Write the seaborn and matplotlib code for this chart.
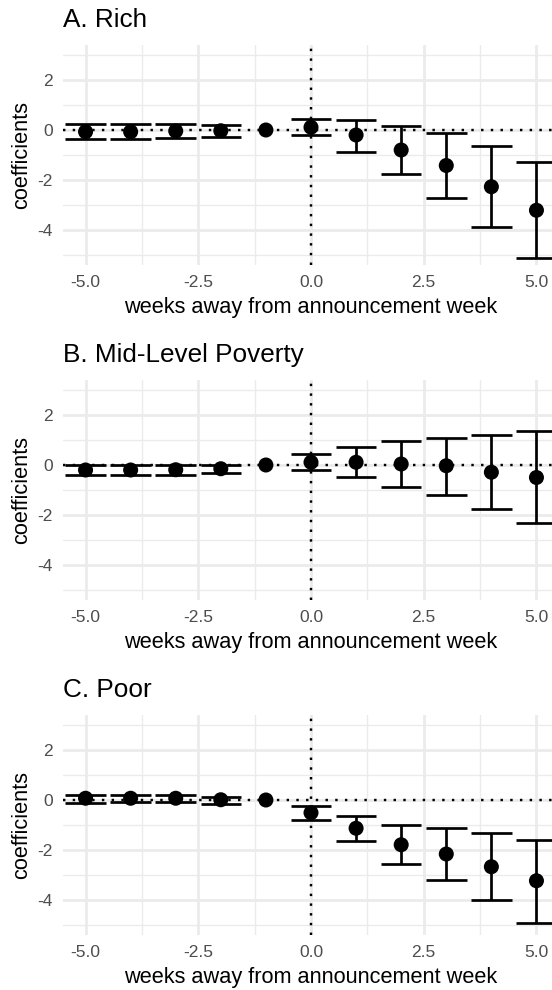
import numpy as np
import pandas as pd
import matplotlib
matplotlib.use("Agg")
import matplotlib.pyplot as plt
import seaborn as sns

# ---- data ----
weeks = [-5, -4, -3, -2, -1, 0, 1, 2, 3, 4, 5]

rich_coef = [-0.07, -0.07, -0.04, -0.03, 0.0, 0.11, -0.20, -0.80, -1.42, -2.27, -3.21]
rich_lo = [-0.35, -0.35, -0.32, -0.26, np.nan, -0.20, -0.86, -1.75, -2.72, -3.88, -5.13]
rich_hi = [0.24, 0.23, 0.24, 0.19, np.nan, 0.44, 0.42, 0.18, -0.13, -0.64, -1.28]

mid_coef = [-0.20, -0.20, -0.19, -0.15, 0.0, 0.11, 0.11, 0.04, -0.03, -0.29, -0.50]
mid_lo = [-0.41, -0.41, -0.41, -0.33, np.nan, -0.19, -0.48, -0.86, -1.20, -1.75, -2.30]
mid_hi = [0.00, 0.00, 0.01, 0.00, np.nan, 0.43, 0.71, 0.95, 1.10, 1.20, 1.35]

poor_coef = [0.07, 0.07, 0.07, 0.01, 0.0, -0.51, -1.13, -1.79, -2.16, -2.67, -3.23]
poor_lo = [-0.11, -0.09, -0.09, -0.15, np.nan, -0.78, -1.64, -2.55, -3.21, -4.01, -4.90]
poor_hi = [0.21, 0.21, 0.20, 0.13, np.nan, -0.24, -0.63, -1.01, -1.11, -1.32, -1.60]

panel_titles = ["A. Rich", "B. Mid-Level Poverty", "C. Poor"]
x_ticks = [-5.0, -2.5, 0.0, 2.5, 5.0]
x_tick_labels = ["-5.0", "-2.5", "0.0", "2.5", "5.0"]
y_ticks = [-4, -2, 0, 2]
y_tick_labels = ["-4", "-2", "0", "2"]
x_label = "weeks away from announcement week"
y_label = "coefficients"

# ---- style ----
sns.set_theme(style="white")
plt.rcParams["font.family"] = ["Liberation Sans", "DejaVu Sans"]
plt.rcParams["axes.unicode_minus"] = False

W, H = 552, 990
fig = plt.figure(figsize=(W / 100, H / 100), dpi=100)

panel_tops = [45, 380, 715]
panel_h = 220
left_px, right_px = 63, 559

series = [
    (rich_coef, rich_lo, rich_hi),
    (mid_coef, mid_lo, mid_hi),
    (poor_coef, poor_lo, poor_hi),
]

grid_col = "#EBEBEB"
cap_half = 0.45

for i, (coef, lo, hi) in enumerate(series):
    top = panel_tops[i]
    rect = [left_px / W, 1 - (top + panel_h) / H, (right_px - left_px) / W, panel_h / H]
    ax = fig.add_axes(rect)
    df = pd.DataFrame({"week": weeks, "coef": coef, "lo": lo, "hi": hi})

    ax.set_xlim(-5.5, 5.5)
    ax.set_ylim(-5.4, 3.4)
    ax.set_xticks(x_ticks)
    ax.set_xticklabels(x_tick_labels)
    ax.set_yticks(y_ticks)
    ax.set_yticklabels(y_tick_labels)
    ax.set_xticks([-3.75, -1.25, 1.25, 3.75], minor=True)
    ax.set_yticks([-5, -3, -1, 1, 3], minor=True)
    ax.grid(which="major", color=grid_col, lw=2.0, zorder=0)
    ax.grid(which="minor", color=grid_col, lw=1.0, zorder=0)
    ax.set_axisbelow(True)
    for s in ax.spines.values():
        s.set_visible(False)
    ax.tick_params(which="both", length=0)
    ax.tick_params(axis="x", pad=7.5, labelsize=12.5, labelcolor="#4D4D4D")
    ax.tick_params(axis="y", pad=7.2, labelsize=12.5, labelcolor="#4D4D4D")

    # reference lines
    ax.axhline(0, color="black", lw=1.75, ls=(0, (1, 3)), zorder=1)
    ax.axvline(0, color="black", lw=1.75, ls=(0, (1, 3)), zorder=1)

    # error bars
    d = df.dropna()
    ax.vlines(d["week"], d["lo"], d["hi"], color="black", lw=1.95, zorder=2)
    ax.hlines(d["lo"], d["week"] - cap_half, d["week"] + cap_half, color="black", lw=1.95, zorder=2)
    ax.hlines(d["hi"], d["week"] - cap_half, d["week"] + cap_half, color="black", lw=1.95, zorder=2)

    # points
    sns.scatterplot(data=df, x="week", y="coef", s=117, color="black",
                    edgecolor="none", linewidth=0, ax=ax, zorder=3, legend=False)

    ax.set_xlim(-5.5, 5.5)
    ax.set_ylim(-5.4, 3.4)
    ax.set_xlabel(x_label, fontsize=15.7, color="black", labelpad=4.6)
    ax.set_ylabel(y_label, fontsize=15.7, color="black", labelpad=4.3)
    ax.set_title(panel_titles[i], loc="left", fontsize=18.8, color="black", pad=13.0)

fig.savefig("out.png", dpi=100)
